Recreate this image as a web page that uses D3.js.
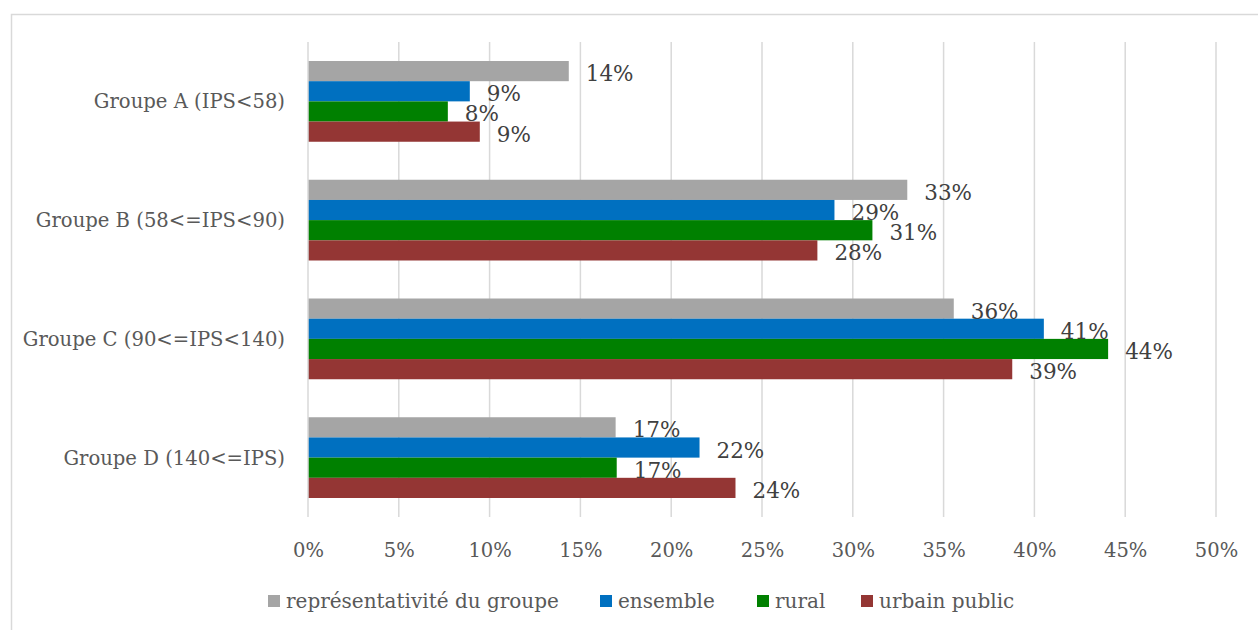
<!DOCTYPE html>
<html>
<head>
<meta charset="utf-8">
<script src="https://cdn.jsdelivr.net/npm/d3@7"></script>
<style>
  html, body { margin: 0; padding: 0; background: #fff; }
  svg { display: block; font-family: "DejaVu Serif", "Liberation Serif", serif; }
</style>
</head>
<body>
<svg id="chart" width="1258" height="630"></svg>
<script>
// Groups by IPS band
const categories = [
  "Groupe A (IPS<58)",
  "Groupe B (58<=IPS<90)",
  "Groupe C (90<=IPS<140)",
  "Groupe D (140<=IPS)"
];

// Series (share of each group)
const seriesNames = ["représentativité du groupe", "ensemble", "rural", "urbain public"];
const representativite = [0.1436, 0.3300, 0.3556, 0.1694];
const ensemble         = [0.0891, 0.2899, 0.4052, 0.2156];
const rural            = [0.0770, 0.3108, 0.4406, 0.1700];
const urbainPublic     = [0.0946, 0.2805, 0.3878, 0.2354];
const seriesColors = ["#A5A5A5", "#0070C0", "#008000", "#943634"];

// Axis ticks
const tickValues = [0, 0.05, 0.10, 0.15, 0.20, 0.25, 0.30, 0.35, 0.40, 0.45, 0.50];

const seriesValues = [representativite, ensemble, rural, urbainPublic];
const series = seriesNames.map((name, i) => ({ name, color: seriesColors[i], values: seriesValues[i] }));

const svg = d3.select("#chart");

// Outer chart frame
svg.append("rect")
  .attr("x", 11.5).attr("y", 14.5)
  .attr("width", 1300).attr("height", 700)
  .attr("fill", "none").attr("stroke", "#D9D9D9").attr("stroke-width", 1.5);

const plot = { left: 308, right: 1216, top: 42, bottom: 517 };

const x = d3.scaleLinear().domain([0, 0.5]).range([plot.left, plot.right]);
const y0 = d3.scaleBand().domain(categories).range([plot.top, plot.bottom]).paddingInner(0.32).paddingOuter(0.16);
const y1 = d3.scaleBand().domain(seriesNames).range([0, y0.bandwidth()]);

// Vertical gridlines
svg.append("g")
  .selectAll("line")
  .data(tickValues.slice(1))
  .join("line")
  .attr("x1", d => x(d)).attr("x2", d => x(d))
  .attr("y1", plot.top).attr("y2", plot.bottom)
  .attr("stroke", "#D9D9D9").attr("stroke-width", 1.5);

// Bottom axis labels
const xAxis = d3.axisBottom(x).tickValues(tickValues).tickFormat(d3.format(".0%")).tickSize(0).tickPadding(0);
const gx = svg.append("g").attr("transform", `translate(0,${plot.bottom + 40})`).call(xAxis);
gx.select(".domain").remove();
gx.selectAll("text")
  .attr("dy", 0)
  .attr("font-family", "DejaVu Serif, serif")
  .attr("font-size", 19.5)
  .attr("fill", "#595959");

// Bars
const groups = svg.append("g")
  .selectAll("g")
  .data(categories)
  .join("g")
  .attr("transform", c => `translate(0,${y0(c)})`);

groups.selectAll("rect")
  .data((c, ci) => series.map(s => ({ name: s.name, color: s.color, v: s.values[ci] })))
  .join("rect")
  .attr("x", x(0))
  .attr("y", d => y1(d.name))
  .attr("width", d => x(d.v) - x(0))
  .attr("height", y1.bandwidth())
  .attr("fill", d => d.color);

// Value labels
groups.selectAll("text")
  .data((c, ci) => series.map(s => ({ name: s.name, v: s.values[ci] })))
  .join("text")
  .attr("x", d => x(d.v) + 17)
  .attr("y", d => y1(d.name) + y1.bandwidth() / 2 + 10)
  .attr("font-size", 21.5)
  .attr("fill", "#404040")
  .text(d => d3.format(".0%")(d.v));

// Left axis line and category labels
svg.append("line")
  .attr("x1", x(0)).attr("x2", x(0))
  .attr("y1", plot.top).attr("y2", plot.bottom)
  .attr("stroke", "#D9D9D9").attr("stroke-width", 1.5);

svg.append("g")
  .selectAll("text")
  .data(categories)
  .join("text")
  .attr("x", 285)
  .attr("y", c => y0(c) + y0.bandwidth() / 2 + 7)
  .attr("text-anchor", "end")
  .attr("font-size", 19.6)
  .attr("fill", "#595959")
  .text(c => c);

// Legend
const legendX = [268, 600, 757, 861];
const legend = svg.append("g")
  .selectAll("g")
  .data(series)
  .join("g")
  .attr("transform", (d, i) => `translate(${legendX[i]},601)`);
legend.append("rect")
  .attr("x", 0).attr("y", -6).attr("width", 12).attr("height", 12)
  .attr("fill", d => d.color);
legend.append("text")
  .attr("x", 18).attr("y", 7)
  .attr("font-size", 20)
  .attr("fill", "#595959")
  .text(d => d.name);
</script>
</body>
</html>
